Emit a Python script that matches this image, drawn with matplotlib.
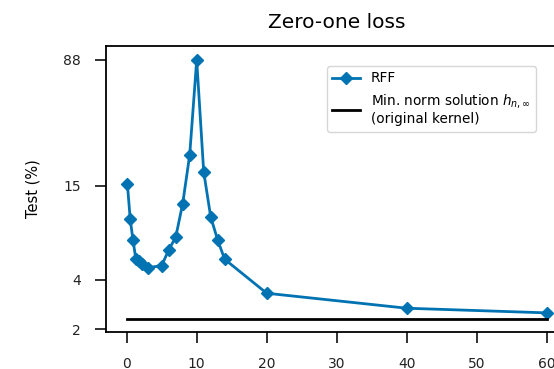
import matplotlib
matplotlib.use("Agg")
import matplotlib.pyplot as plt

# Number of random Fourier features (x10^3) and zero-one test error (%)
n_features = [0.1, 0.5, 0.9, 1.3, 1.8, 2.2, 3, 5, 6, 7, 8, 9, 10, 11, 12, 13, 14, 20, 40, 60]
rff_error = [15.4, 9.4, 7.0, 5.4, 5.2, 5.0, 4.75, 4.9, 6.1, 7.3, 11.7, 23.2, 88.0,
             18.3, 9.7, 7.0, 5.35, 3.32, 2.69, 2.52]

kernel_x = [0, 60]
kernel_error = [2.30, 2.30]

y_ticks = [2, 4, 15, 88]
x_ticks = [0, 10, 20, 30, 40, 50, 60]

W, H = 554, 369
fig = plt.figure(figsize=(W / 100, H / 100), dpi=100)
# axes run past the right edge of the picture, as in the cropped original
ax = fig.add_axes([105.7 / W, 1 - 332 / H, 462 / W, 286 / H])

blue = "#0173b2"
ax.plot(n_features, rff_error, color=blue, lw=2, marker="D", markersize=6.5,
        label="RFF")
ax.plot(kernel_x, kernel_error, color="black", lw=2,
        label="Min. norm solution $h_{n,\\infty}$\n(original kernel)")

ax.set_yscale("log")
ax.set_ylim(1.926, 107.1)
ax.set_xlim(-3, 63)
ax.set_yticks(y_ticks)
ax.set_yticklabels([str(t) for t in y_ticks])
ax.minorticks_off()
ax.set_xticks(x_ticks)

for side in ["left", "bottom", "top", "right"]:
    ax.spines[side].set_linewidth(1.3)
ax.tick_params(length=8, width=1.3, pad=10, labelsize=10, colors="#222222")

ax.set_ylabel("Test (%)", fontsize=10.5, labelpad=16)
ax.set_title("Zero-one loss", fontsize=14.5, pad=13)

leg = ax.legend(loc="upper left", bbox_to_anchor=(327 / W, 1 - 66 / H),
                bbox_transform=fig.transFigure, borderaxespad=0, fontsize=9.8,
                frameon=True, fancybox=True, edgecolor="#cccccc")

fig.savefig("out.png", dpi=100)
